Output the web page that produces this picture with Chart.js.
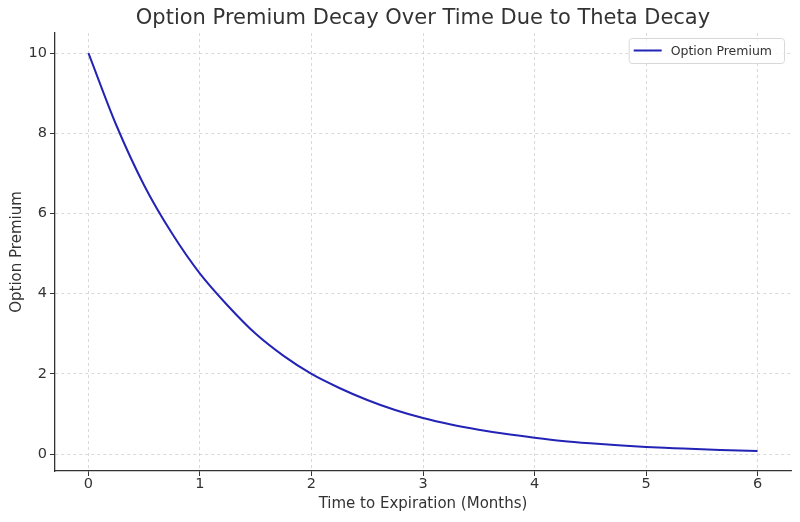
<!DOCTYPE html>
<html>
<head>
<meta charset="utf-8">
<script src="https://cdn.jsdelivr.net/npm/chart.js@4.4.1/dist/chart.umd.min.js"></script>
<style>
  html, body { margin: 0; padding: 0; background: #fff; }
  #wrap { width: 800px; height: 522px; }
</style>
</head>
<body>
<div id="wrap"><canvas id="chart" width="800" height="522"></canvas></div>
<script>
const TITLE = "Option Premium Decay Over Time Due to Theta Decay";
const X_LABEL = "Time to Expiration (Months)";
const Y_LABEL = "Option Premium";
const SERIES_NAME = "Option Premium";

// months to expiration, read every quarter month
const months = [0, 0.25, 0.5, 0.75, 1, 1.25, 1.5, 1.75, 2, 2.25, 2.5, 2.75, 3,
    3.25, 3.5, 3.75, 4, 4.25, 4.5, 4.75, 5, 5.25, 5.5, 5.75, 6];
// premium
const premium = [10.0, 8.2, 6.7, 5.5, 4.5, 3.7, 3.0, 2.45, 2.0, 1.65, 1.35, 1.1, 0.9,
    0.74, 0.61, 0.5, 0.41, 0.33, 0.27, 0.22, 0.18, 0.15, 0.12, 0.1, 0.08];

const xTicks = [0, 1, 2, 3, 4, 5, 6];
const yTicks = [0, 2, 4, 6, 8, 10];

const FONT = "'DejaVu Sans', sans-serif";
const LINE_COLOR = "#2323b5";
const TEXT_COLOR = "#333333";

const overlay = {
    id: "overlay",
    afterDraw(chart) {
        const { ctx, chartArea: { left, right, top } } = chart;
        ctx.save();
        // title
        ctx.font = "21px " + FONT;
        ctx.fillStyle = TEXT_COLOR;
        ctx.textAlign = "center";
        ctx.textBaseline = "middle";
        ctx.fillText(TITLE, (left + right) / 2, 19);

        // legend box, upper right
        ctx.font = "12.5px " + FONT;
        const tw = ctx.measureText(SERIES_NAME).width;
        const bw = tw + 54, bh = 25;
        const bx = right - 7 - bw, by = top + 5;
        ctx.fillStyle = "rgba(255,255,255,0.8)";
        ctx.strokeStyle = "#d8d8d8";
        ctx.lineWidth = 1;
        ctx.beginPath();
        ctx.roundRect(bx + 0.5, by + 0.5, bw, bh, 3);
        ctx.fill();
        ctx.stroke();
        ctx.strokeStyle = LINE_COLOR;
        ctx.lineWidth = 2;
        ctx.beginPath();
        ctx.moveTo(bx + 5, by + bh / 2);
        ctx.lineTo(bx + 33, by + bh / 2);
        ctx.stroke();
        ctx.fillStyle = TEXT_COLOR;
        ctx.textAlign = "left";
        ctx.fillText(SERIES_NAME, bx + 42, by + bh / 2 + 1);
        ctx.restore();
    }
};

const gridOpts = {
    color: "#d0d0d0",
    lineWidth: 0.8,
    tickColor: TEXT_COLOR,
    tickBorderDash: [],
    tickLength: 5,
    tickWidth: 1
};
const borderOpts = { display: true, color: TEXT_COLOR, width: 1.3, dash: [3, 3] };

new Chart(document.getElementById("chart"), {
    type: "line",
    data: {
        datasets: [{
            label: SERIES_NAME,
            data: months.map((m, i) => ({ x: m, y: premium[i] })),
            borderColor: LINE_COLOR,
            borderWidth: 2,
            pointRadius: 0,
            fill: false,
            cubicInterpolationMode: "monotone"
        }]
    },
    options: {
        responsive: false,
        animation: false,
        layout: { padding: { top: 33, right: 9, left: 0, bottom: 0 } },
        plugins: {
            legend: { display: false },
            title: { display: false },
            tooltip: { enabled: false }
        },
        scales: {
            x: {
                type: "linear",
                min: -0.3,
                max: 6.3,
                afterBuildTicks: (axis) => { axis.ticks = xTicks.map(v => ({ value: v })); },
                afterFit: (axis) => { axis.height = 51; },
                ticks: { color: TEXT_COLOR, font: { family: FONT, size: 14.5 }, padding: 0, maxRotation: 0 },
                grid: gridOpts,
                border: borderOpts,
                title: {
                    display: true,
                    text: X_LABEL,
                    color: TEXT_COLOR,
                    font: { family: FONT, size: 15 },
                    padding: { top: 0, bottom: 9 }
                }
            },
            y: {
                type: "linear",
                min: -0.42,
                max: 10.5,
                afterBuildTicks: (axis) => { axis.ticks = yTicks.map(v => ({ value: v })); },
                afterFit: (axis) => { axis.width = 55; },
                ticks: { color: TEXT_COLOR, font: { family: FONT, size: 14.5 }, padding: 3 },
                grid: gridOpts,
                border: borderOpts,
                title: {
                    display: true,
                    text: Y_LABEL,
                    color: TEXT_COLOR,
                    font: { family: FONT, size: 15 },
                    padding: { top: 8, bottom: 0 }
                }
            }
        }
    },
    plugins: [overlay]
});
</script>
</body>
</html>
